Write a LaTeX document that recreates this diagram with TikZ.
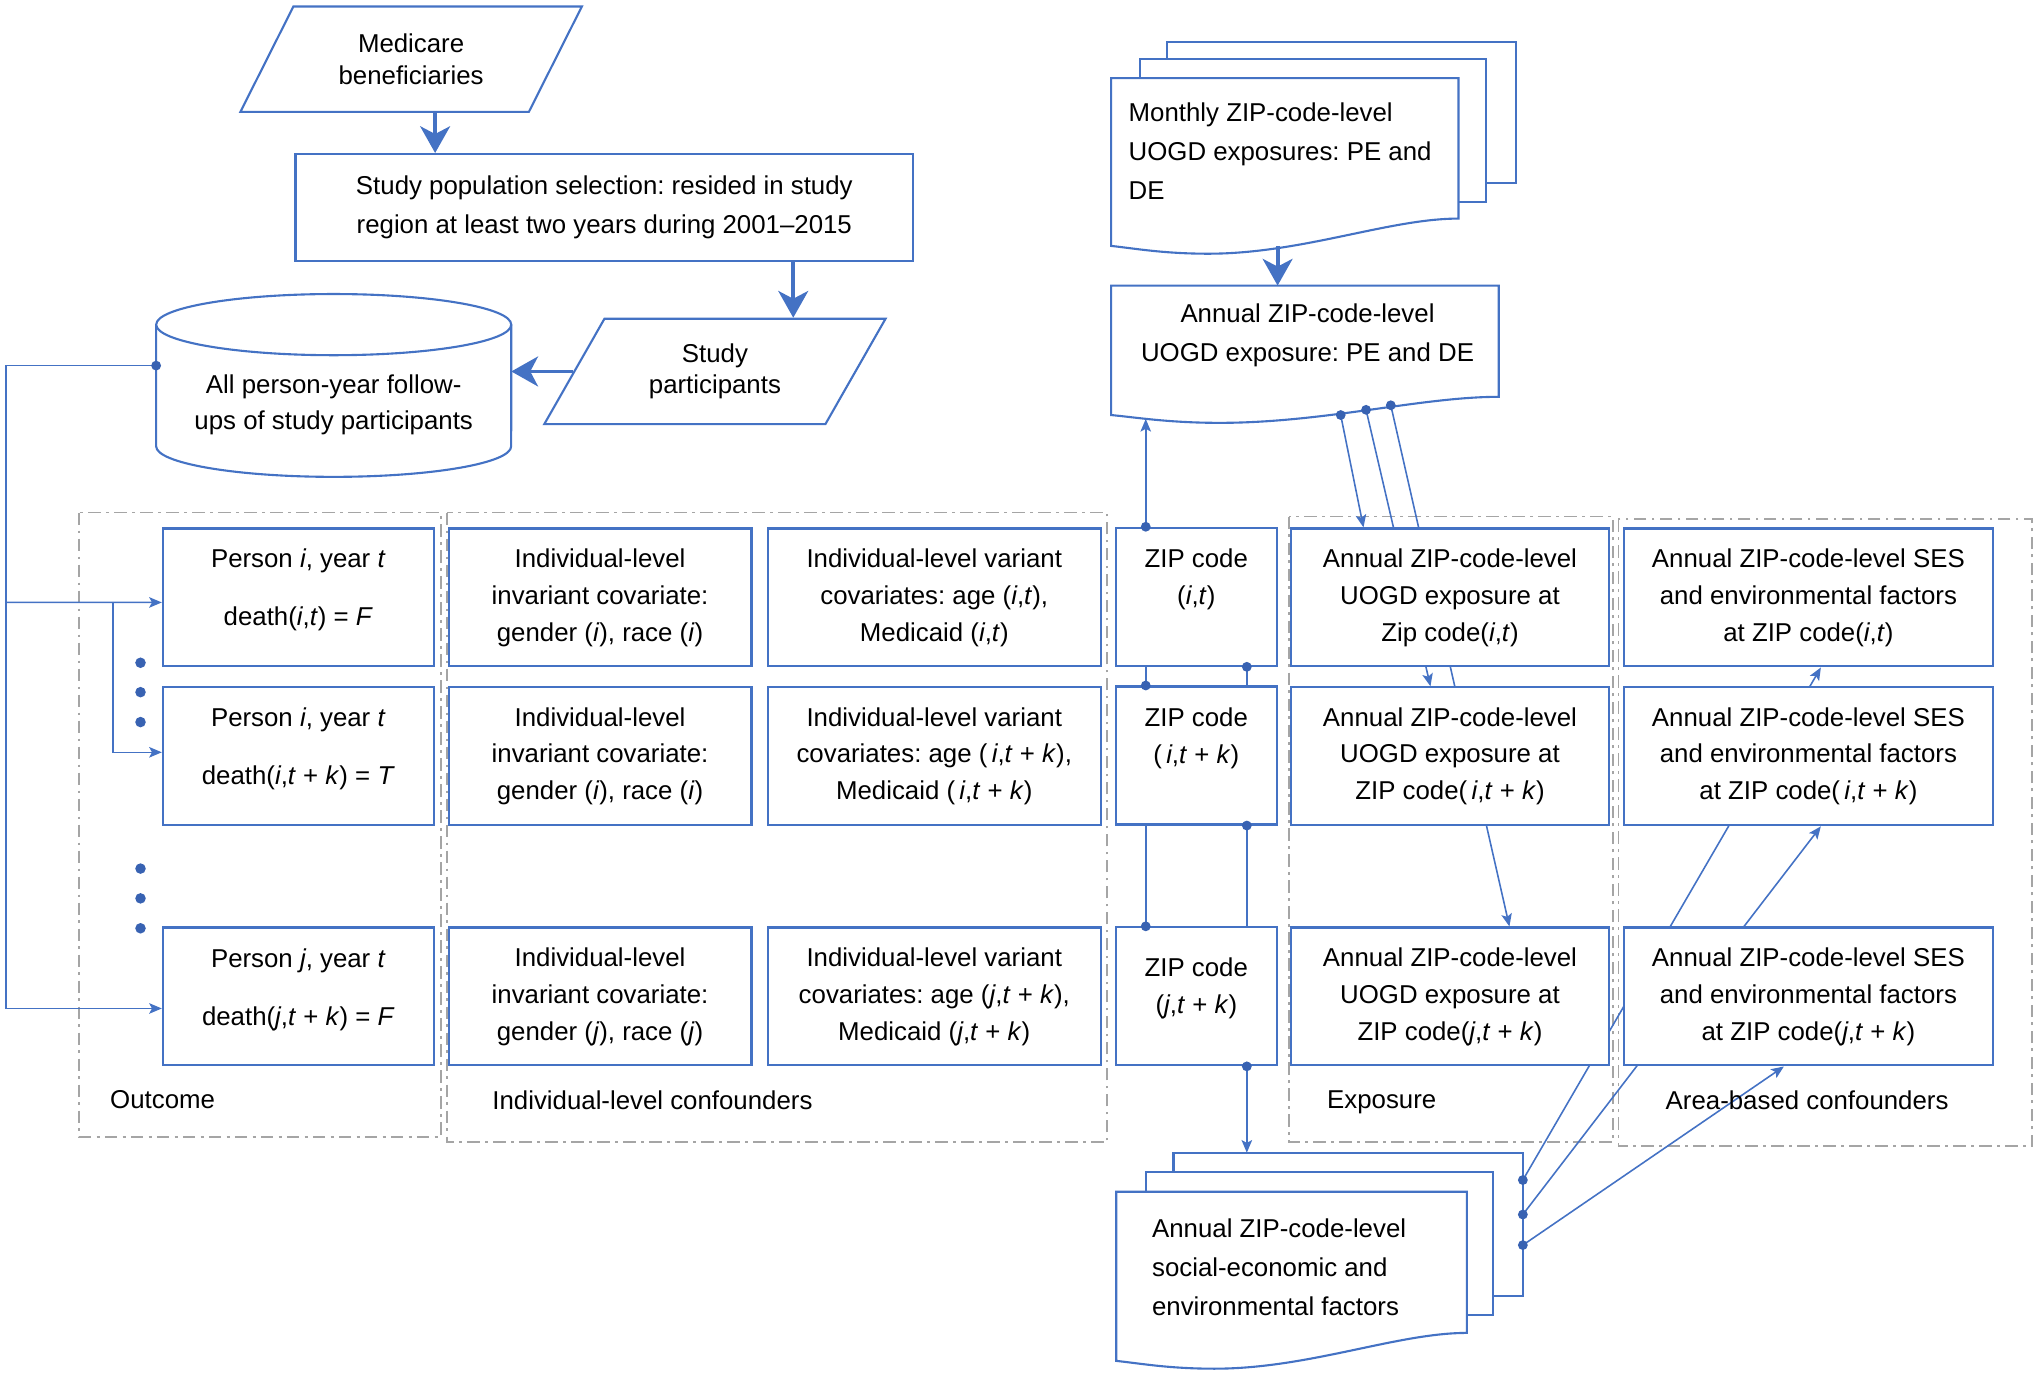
\documentclass[tikz,border=0pt]{standalone}
\usepackage{fontspec}
\setmainfont{Liberation Sans}
\usetikzlibrary{shapes.geometric,arrows.meta,backgrounds}
\frenchspacing

\definecolor{mblue}{RGB}{68,114,196}
\definecolor{mdot}{RGB}{56,98,178}
\definecolor{mgray}{RGB}{165,165,165}
\newcommand\mv[1]{\textit{#1}}
\newcommand\docshape[6]{%
  \draw[box] (#1,#5) -- (#1,#2) -- (#3,#2) -- (#3,#4)
    .. controls ({#1+0.8*(#3-#1)},#4) and ({#1+0.55*(#3-#1)},#6) .. ({#1+0.28*(#3-#1)},#6)
    .. controls ({#1+0.15*(#3-#1)},#6) and ({#1+0.07*(#3-#1)},{#5+2}) .. (#1,#5) -- cycle;}

\begin{document}
\begin{tikzpicture}[x=0.01301cm, y=-0.01301cm,
  font=\fontsize{7.35}{10.5}\selectfont,
  box/.style={draw=mblue, line width=0.6pt, fill=white},
  txt/.style={align=center, inner sep=0pt},
  para/.style={box, trapezium, trapezium left angle=57, trapezium right angle=123,
    trapezium stretches=true, minimum width=3.42cm, minimum height=1.054cm,
    inner sep=0pt, align=center, font=\fontsize{7.35}{8.9}\selectfont},
  rowbox/.style={box, minimum height=1.38cm, inner sep=0pt, align=center},
  grp/.style={draw=mgray, line width=0.5pt, dash pattern=on 3.6pt off 1.5pt on 0.8pt off 1.5pt},
  conn/.style={mblue, line width=0.45pt},
  arr/.style={conn, -{Stealth[length=3.6pt, width=3pt, inset=0.8pt]}},
  bigarr/.style={mblue, line width=1.1pt, -{Stealth[length=7.6pt, width=8.5pt, inset=2.2pt]}}]
  \useasboundingbox (0,0) rectangle (1568,1057);

  \node[para] (med) at (316,45.5) {Medicare\\beneficiaries};
  \node[box, txt, minimum width=6.18cm, minimum height=1.07cm, font=\fontsize{7.35}{11.1}\selectfont] (sel) at (464.5,159.5)
    {Study population selection: resided in study\\region at least two years during 2001--2015};
  \node[para] (part) at (549.5,285.5) {Study\\participants};

  \draw[box] (120,249.5) -- (120,343) arc[start angle=180, end angle=360, x radius=1.776cm, y radius=0.306cm] -- (393,249.5);
  \draw[box] (256.5,249.5) ellipse [x radius=1.776cm, y radius=0.306cm];
  \node[txt, font=\fontsize{7.35}{10.4}\selectfont] (cylt) at (256.5,311) {All person-year follow-\\ups of study participants};
  \coordinate (cylL) at (120,281);
  \coordinate (cylR) at (393,289);

  \draw[bigarr] ([xshift=0.24cm]med.south) -- ([xshift=0.24cm]med.south |- sel.north);
  \draw[bigarr] ([xshift=1.89cm]sel.south) -- ([xshift=1.89cm]sel.south |- part.north);
  \draw[bigarr] (part.west) -- (part.west -| cylR);

  \draw[box] (897,32) rectangle (1165,140.5);
  \draw[box] (876,45.5) rectangle (1142,155);
  \docshape{854}{60}{1121}{168}{189}{195}
  \node[txt, align=left, anchor=west, font=\fontsize{7.35}{11.1}\selectfont] (mont) at (867,116)
    {Monthly ZIP-code-level\\UOGD exposures: PE and\\DE};
  \docshape{854}{219.5}{1152}{305}{319}{325}
  \node[txt, font=\fontsize{7.35}{11.1}\selectfont] (annt) at (1005,258) {Annual ZIP-code-level\\UOGD exposure: PE and DE};
  \coordinate (monout) at (982,189);
  \coordinate (anntop) at (982,219.5);
  \draw[bigarr] (monout) -- (anntop);

  \draw[box] (902,886) rectangle (1170.5,996);
  \draw[box] (880.5,901) rectangle (1147.5,1011);
  \docshape{858}{916}{1127.5}{1024.5}{1046}{1052}
  \node[txt, align=left, anchor=west, font=\fontsize{7.35}{11.1}\selectfont] (sest) at (885,974)
    {Annual ZIP-code-level\\social-economic and\\environmental factors};

  \node[rowbox, minimum width=2.71cm] (p1) at (229.3,459.2) {};
  \node[txt] (p1t) at (229.3,453.4) {Person \mv{i}, year \mv{t}\\[5.9pt]death(\mv{i},\mv{t}) = \mv{F}};
  \node[rowbox, minimum width=3.03cm] (i1) at (461.2,459.2) {Individual-level\\invariant covariate:\\gender (\mv{i}), race (\mv{i})};
  \node[rowbox, minimum width=3.33cm] (v1) at (718.1,459.2) {Individual-level variant\\covariates: age (\mv{i},\mv{t}),\\Medicaid (\mv{i},\mv{t})};
  \node[rowbox, minimum width=1.61cm] (z1) at (919.5,458.7) {};
  \node[txt] (z1t) at (919.5,445.2) {ZIP code\\(\mv{i},\mv{t})};
  \node[rowbox, minimum width=3.19cm] (e1) at (1114.5,459.2) {Annual ZIP-code-level\\UOGD exposure at\\Zip code(\mv{i},\mv{t})};
  \node[rowbox, minimum width=3.69cm] (f1) at (1390,459.2) {Annual ZIP-code-level SES\\and environmental factors\\at ZIP code(\mv{i},\mv{t})};

  \node[rowbox, minimum width=2.71cm] (p2) at (229.3,581.3) {};
  \node[txt] (p2t) at (229.3,575.4) {Person \mv{i}, year \mv{t}\\[5.9pt]death(\mv{i},\mv{t} + \mv{k}) = \mv{T}};
  \node[rowbox, minimum width=3.03cm] (i2) at (461.2,581.3) {Individual-level\\invariant covariate:\\gender (\mv{i}), race (\mv{i})};
  \node[rowbox, minimum width=3.33cm] (v2) at (718.1,581.3) {Individual-level variant\\covariates: age (\,\mv{i},\mv{t} + \mv{k}),\\Medicaid (\,\mv{i},\mv{t} + \mv{k})};
  \node[rowbox, minimum width=1.61cm] (z2) at (919.5,580.7) {};
  \node[txt] (z2t) at (919.5,567.7) {ZIP code\\(\,\mv{i},\mv{t} + \mv{k})};
  \node[rowbox, minimum width=3.19cm] (e2) at (1114.5,581.3) {Annual ZIP-code-level\\UOGD exposure at\\ZIP code(\,\mv{i},\mv{t} + \mv{k})};
  \node[rowbox, minimum width=3.69cm] (f2) at (1390,581.3) {Annual ZIP-code-level SES\\and environmental factors\\at ZIP code(\,\mv{i},\mv{t} + \mv{k})};

  \node[rowbox, minimum width=2.71cm] (p3) at (229.3,765.9) {};
  \node[txt] (p3t) at (229.3,760.7) {Person \mv{j}, year \mv{t}\\[5.9pt]death(\mv{j},\mv{t} + \mv{k}) = \mv{F}};
  \node[rowbox, minimum width=3.03cm] (i3) at (461.2,765.9) {Individual-level\\invariant covariate:\\gender (\mv{j}), race (\mv{j})};
  \node[rowbox, minimum width=3.33cm] (v3) at (718.1,765.9) {Individual-level variant\\covariates: age (\mv{j},\mv{t} + \mv{k}),\\Medicaid (\mv{j},\mv{t} + \mv{k})};
  \node[rowbox, minimum width=1.61cm] (z3) at (919.5,765.8) {};
  \node[txt] (z3t) at (919.5,759.7) {ZIP code\\(\mv{j},\mv{t} + \mv{k})};
  \node[rowbox, minimum width=3.19cm] (e3) at (1114.5,765.9) {Annual ZIP-code-level\\UOGD exposure at\\ZIP code(\mv{j},\mv{t} + \mv{k})};
  \node[rowbox, minimum width=3.69cm] (f3) at (1390,765.9) {Annual ZIP-code-level SES\\and environmental factors\\at ZIP code(\mv{j},\mv{t} + \mv{k})};

  \node[txt] (lout) at (125,845) {Outcome};
  \node[txt] (lind) at (501.5,846) {Individual-level confounders};
  \node[txt] (lexp) at (1062,847) {Exposure};
  \node[txt] (larea) at (1389,846) {Area-based confounders};

  \coordinate (annin) at (882,322);
  \coordinate (a1) at (1030.5,319);
  \coordinate (a2) at (1050,315);
  \coordinate (a3) at (1069,311.5);
  \coordinate (d1) at (1170.5,907);
  \coordinate (d2) at (1170.5,933.5);
  \coordinate (d3) at (1170.5,957);
  \coordinate (sesin) at (956,886);
  \coordinate (bus) at (4.5,281);
  \coordinate (fork) at (87,463);
  \coordinate (z1a) at ([xshift=0.31cm]z1.north west);
  \coordinate (z1b) at ([xshift=-0.31cm]z1.south east);
  \coordinate (z2a) at ([xshift=0.31cm]z2.north west);
  \coordinate (z2b) at ([xshift=-0.31cm]z2.south east);
  \coordinate (z3a) at ([xshift=0.31cm]z3.north west);
  \coordinate (z3b) at ([xshift=-0.31cm]z3.south east);

  \begin{pgfonlayer}{background}
    \draw[grp] (61,394) rectangle (338.7,874);
    \draw[grp] (343.6,394) rectangle (851,878);
    \draw[grp] (991,397) rectangle (1240,878);
    \draw[grp] (1244,399) rectangle (1562,881);
    \draw[arr] (a1) -- ([xshift=0.74cm]e1.north west);
    \draw[arr] (a2) -- ([xshift=1.41cm]e2.north west);
    \draw[arr] (a3) -- ([xshift=2.20cm]e3.north west);
    \draw[arr] (d1) -- ([xshift=1.98cm]f1.south west);
    \draw[arr] (d2) -- ([xshift=1.98cm]f2.south west);
    \draw[arr] (d3) -- ([xshift=1.61cm]f3.south west);
  \end{pgfonlayer}

  \draw[arr] (cylL) -- (bus) |- ([yshift=-0.12cm]p3.west);
  \draw[arr] (bus |- fork) -- ([yshift=-0.05cm]p1.west);
  \draw[arr] (fork) |- ([yshift=0.04cm]p2.west);

  \draw[arr] (z1a) -- (z1a |- annin);
  \draw[conn] (z2a) -- (z2a |- z1.south);
  \draw[conn] (z1b) -- (z1b |- z2.north);
  \draw[conn] (z3a) -- (z3a |- z2.south);
  \draw[conn] (z2b) -- (z2b |- z3.north);
  \draw[arr] (z3b) -- (z3b |- sesin);

  \foreach \d in {cylL,a1,a2,a3,d1,d2,d3,z1a,z1b,z2a,z2b,z3a,z3b}
    \fill[mdot] (\d) circle (1.4pt);
  \foreach \y in {509.4,532,555,667.6,690.5,713.5}
    \fill[mdot] (108,\y) circle (1.5pt);
\end{tikzpicture}
\end{document}
